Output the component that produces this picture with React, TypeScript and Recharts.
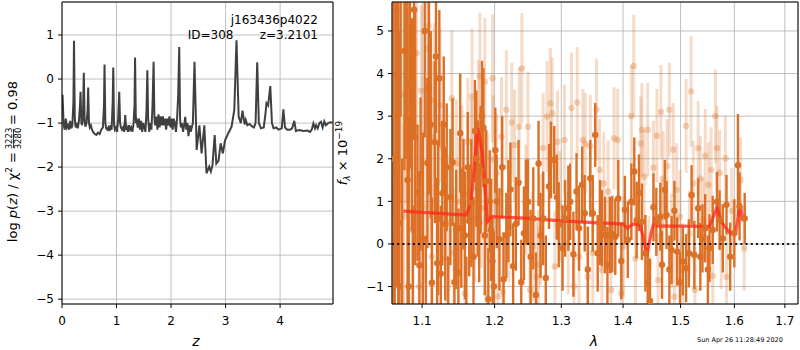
import React from "react";
import {
  ComposedChart,
  Line,
  Scatter,
  ErrorBar,
  XAxis,
  YAxis,
  CartesianGrid,
  ReferenceLine,
} from "recharts";

// p(z) curve, left panel
const zGrid = [
  0.0, 0.01, 0.03, 0.05, 0.07, 0.09, 0.11, 0.13, 0.15, 0.17, 0.19, 0.21, 0.22, 0.235, 0.25, 0.27, 0.29, 0.31, 0.33,
  0.34, 0.355, 0.37, 0.385, 0.4, 0.415, 0.43, 0.45, 0.47, 0.48, 0.495, 0.51, 0.53, 0.55, 0.57, 0.6, 0.63, 0.66, 0.69,
  0.72, 0.75, 0.77, 0.78, 0.795, 0.81, 0.83, 0.85, 0.87, 0.89, 0.91, 0.93, 0.94, 0.955, 0.97, 0.99, 1.01, 1.03, 1.05,
  1.065, 1.08, 1.1, 1.12, 1.14, 1.16, 1.175, 1.19, 1.21, 1.23, 1.25, 1.27, 1.29, 1.31, 1.33, 1.34, 1.355, 1.37, 1.39,
  1.41, 1.43, 1.45, 1.47, 1.49, 1.51, 1.53, 1.55, 1.565, 1.58, 1.6, 1.62, 1.64, 1.66, 1.68, 1.695, 1.71, 1.73, 1.75,
  1.77, 1.79, 1.81, 1.83, 1.85, 1.87, 1.89, 1.91, 1.93, 1.95, 1.97, 1.99, 2.01, 2.03, 2.05, 2.07, 2.09, 2.11, 2.13,
  2.15, 2.165, 2.18, 2.2, 2.22, 2.24, 2.26, 2.28, 2.3, 2.32, 2.34, 2.36, 2.38, 2.4, 2.43, 2.47, 2.52, 2.56, 2.61,
  2.65, 2.7, 2.73, 2.76, 2.8, 2.83, 2.87, 2.91, 2.95, 2.99, 3.05, 3.11, 3.16, 3.2, 3.24, 3.28, 3.31, 3.35, 3.37, 3.4,
  3.44, 3.48, 3.52, 3.55, 3.58, 3.61, 3.65, 3.7, 3.73, 3.75, 3.78, 3.82, 3.85, 3.88, 3.93, 3.97, 4.03, 4.06, 4.09,
  4.13, 4.18, 4.22, 4.26, 4.29, 4.35, 4.43, 4.5, 4.55, 4.58, 4.61, 4.64, 4.66, 4.69, 4.72, 4.75, 4.78, 4.81, 4.84,
  4.88, 4.92, 4.96,
];
const logPz = [
  -0.4, -0.36, -1.05, -1.15, -0.9, -1.1, -1.05, -1.15, -0.95, -1.12, -1.05, -0.5, 0.87, -0.9, -1.1, -1.0, -1.12, -0.95,
  -0.6, -0.29, -1.0, -1.05, -0.8, 0.14, -0.95, -1.08, -1.0, -0.7, -0.19, -1.0, -1.1, -1.05, -1.15, -1.2, -1.25, -1.27,
  -1.22, -1.25, -1.15, -1.1, -0.6, 0.33, -1.0, -1.12, -1.15, -1.1, -1.18, -1.05, -1.15, -0.5, 0.26, -1.05, -1.15, -1.1,
  -1.2, -0.9, -0.29, -1.0, -1.1, -1.15, -1.1, -1.2, -0.82, -1.15, -1.1, -1.2, -1.05, -1.15, -1.1, -1.2, -1.05, -0.6,
  0.49, -1.0, -0.95, -1.1, -0.9, -1.15, -0.95, -1.2, -1.0, -1.1, -1.2, -0.7, 0.2, -0.9, -1.2, -1.0, -1.15, -0.6, 0.39,
  -0.9, -1.05, -0.85, -1.15, -0.8, -1.1, -0.85, -1.05, -0.85, -1.05, -0.9, -1.15, -0.9, -1.05, -0.85, -1.1, -0.9,
  -1.15, -0.9, -1.0, -1.2, -0.9, -0.4, 0.73, -0.9, -1.1, -1.0, -1.2, -1.05, -0.86, -1.15, -1.0, -1.3, -1.05, -1.2,
  -1.1, -1.0, 0.39, -1.61, -1.05, -1.69, -1.05, -2.14, -1.99, -2.1, -1.95, -1.27, -1.92, -1.86, -1.46, -1.69, -1.39,
  -1.23, -1.08, -0.7, 0.88, -0.86, -1.0, -0.72, -1.03, -0.93, -1.05, -1.02, -1.07, -1.1, -1.0, 0.38, -1.0, -1.12,
  -1.1, -0.8, -0.55, -0.6, -0.16, -1.0, -1.12, -1.1, -1.15, -1.12, -0.69, -1.1, -1.15, -1.15, -1.12, -0.95, -1.18,
  -1.16, -1.18, -1.17, -1.2, -1.15, -1.01, -1.12, -1.05, -1.12, -1.0, -0.97, -1.1, -0.96, -1.05, -1.0, -0.98, -0.99,
];

// spectrum, right panel: dark (primary) points
const darkLam = [
  1.063, 1.0645, 1.066, 1.0675, 1.069, 1.0705, 1.072, 1.074, 1.077, 1.0785, 1.081, 1.0825, 1.084, 1.0865, 1.088,
  1.0895, 1.091, 1.094, 1.0965, 1.098, 1.101, 1.1035, 1.105, 1.107, 1.109, 1.1115, 1.113, 1.117, 1.1185, 1.12, 1.1215,
  1.123, 1.125, 1.127, 1.129, 1.131, 1.133, 1.135, 1.138, 1.141, 1.1435, 1.146, 1.149, 1.1515, 1.153, 1.156, 1.158,
  1.16, 1.162, 1.164, 1.167, 1.17, 1.172, 1.174, 1.176, 1.178, 1.18, 1.182, 1.184, 1.186, 1.188, 1.191, 1.193, 1.195,
  1.197, 1.199, 1.201, 1.203, 1.207, 1.211, 1.213, 1.217, 1.22, 1.223, 1.227, 1.231, 1.235, 1.239, 1.243, 1.246,
  1.249, 1.253, 1.257, 1.261, 1.265, 1.268, 1.272, 1.276, 1.281, 1.284, 1.289, 1.293, 1.296, 1.302, 1.306, 1.311,
  1.314, 1.319, 1.324, 1.328, 1.333, 1.337, 1.342, 1.346, 1.35, 1.354, 1.358, 1.362, 1.365, 1.37, 1.374, 1.378,
  1.382, 1.387, 1.392, 1.397, 1.403, 1.408, 1.414, 1.419, 1.423, 1.427, 1.432, 1.438, 1.442, 1.446, 1.452, 1.457,
  1.464, 1.467, 1.472, 1.475, 1.48, 1.484, 1.489, 1.494, 1.499, 1.504, 1.51, 1.515, 1.52, 1.525, 1.532, 1.536, 1.54,
  1.545, 1.55, 1.553, 1.559, 1.567, 1.572, 1.578, 1.585, 1.592, 1.6, 1.607, 1.61, 1.62,
];
const darkFlux = [
  2.0, -3, 6.5, 4, 0.5, -1, 7.0, -2.0, 4.53, 6, 1.5, -1, 3.77, 2.8, -1.6, 5.5, 2.5, 1.2, -0.5, 1.64, 0.11, 5.0, -2.0,
  1.9, 3.66, 2.8, -0.91, 2.39, 4.4, -0.45, 0.6, 3.89, -0.7, 1.19, 2.8, 0.47, 1.8, -1.8, 1.1, 1.92, -0.9, 0.34, -0.67,
  2.6, 0.37, 1.17, 0.2, -1.5, 1.8, 0.54, 0.96, -0.3, 2.65, 2.0, 1.3, 0.5, 1.74, 3.0, 2.73, 0.2, 1.48, -1.3, 1.0, 0.33,
  -0.4, -1.0, 2.2, 1.0, 0.11, 1.8, -0.83, 0.2, 0.77, 1.28, -0.52, 0.47, 1.44, -0.9, 0.25, 0.98, 0.99, -0.3, 0.6,
  -1.2, 1.89, 0.2, 0.6, -0.8, 1.35, 1.97, 1.97, 1.1, 0.45, -0.1, 0.6, 0.84, 0.99, -0.24, 1.23, 0.37, 1.39, 0.72, -0.6,
  1.54, 0.72, 2.56, -0.22, 0.5, 0.37, 0.21, -0.5, 0.21, 0.23, 0.17, 1.07, -0.4, 0.8, 0.1, 0.99, 1.7, 0.56, 1.2, 0.52,
  -0.22, -0.9, -1.34, 0.86, 0.52, 0.64, -0.49, 1.27, 0.68, -0.6, -0.14, 0.78, -0.18, -0.9, -0.41, -0.57, -0.22, 1.15,
  -0.26, 0.84, -0.3, 0.13, 0.37, -0.6, -0.1, 0.33, 0.99, 0.56, 0.13, 0.92, -0.3, 0.25, 1.85, 0.88, 0.6,
];
const darkErr = [
  6, 5, 5, 5, 6, 6, 4, 4, 2.8, 4, 5, 4, 2.0, 2.5, 2.5, 3, 3, 1.6, 2.2, 1.8, 2.5, 2.5, 2.2, 2.0, 2.5, 2.2, 2.0, 1.9,
  1.8, 2.0, 1.8, 1.6, 1.6, 1.7, 1.6, 1.8, 1.5, 1.5, 1.6, 1.5, 1.4, 1.4, 1.5, 1.4, 1.4, 1.3, 1.5, 1.2, 1.3, 1.3, 1.5,
  1.4, 1.2, 1.6, 1.6, 1.4, 1.5, 1.3, 1.4, 1.4, 1.2, 1.2, 1.2, 1.2, 1.0, 1.3, 1.0, 1.1, 1.2, 1.2, 1.1, 1.0, 1.2, 1.1,
  1.0, 1.1, 1.0, 1.0, 1.1, 1.0, 1.0, 1.1, 1.2, 1.0, 1.0, 1.0, 1.1, 1.0, 1.0, 0.9, 0.8, 1.0, 1.0, 1.0, 0.9, 1.0, 0.9,
  1.0, 0.9, 1.0, 0.9, 0.9, 1.0, 0.9, 0.9, 0.75, 0.9, 1.0, 0.9, 0.9, 0.9, 0.9, 0.9, 0.9, 0.9, 0.9, 0.8, 0.9, 0.9, 0.8,
  0.9, 0.9, 0.9, 0.9, 0.8, 1.0, 0.8, 0.8, 0.8, 0.8, 0.7, 0.8, 0.8, 0.8, 0.7, 0.8, 0.7, 0.8, 0.8, 0.8, 0.7, 0.8, 0.7,
  0.8, 0.8, 0.8, 0.8, 0.8, 0.8, 0.7, 0.7, 0.8, 0.7, 0.8, 0.8, 1.2, 0.8, 0.6,
];

// faint (contaminated / second-order) points
const lightLam = [
  1.064, 1.067, 1.07, 1.073, 1.076, 1.079, 1.082, 1.084, 1.087, 1.09, 1.093, 1.096, 1.099, 1.103, 1.107, 1.109, 1.11,
  1.113, 1.115, 1.116, 1.12, 1.124, 1.128, 1.132, 1.136, 1.14, 1.143, 1.146, 1.15, 1.154, 1.158, 1.162, 1.167, 1.168,
  1.172, 1.177, 1.179, 1.181, 1.186, 1.188, 1.19, 1.197, 1.198, 1.203, 1.205, 1.21, 1.212, 1.217, 1.221, 1.225, 1.229,
  1.236, 1.24, 1.246, 1.249, 1.252, 1.256, 1.262, 1.265, 1.268, 1.272, 1.278, 1.283, 1.286, 1.29, 1.294, 1.298, 1.305,
  1.311, 1.316, 1.32, 1.325, 1.328, 1.334, 1.338, 1.342, 1.346, 1.35, 1.356, 1.361, 1.365, 1.368, 1.375, 1.38, 1.385,
  1.391, 1.397, 1.401, 1.414, 1.418, 1.421, 1.43, 1.432, 1.436, 1.442, 1.444, 1.452, 1.458, 1.46, 1.465, 1.467, 1.469,
  1.476, 1.48, 1.484, 1.487, 1.489, 1.493, 1.499, 1.504, 1.51, 1.516, 1.519, 1.523, 1.526, 1.532, 1.536, 1.541, 1.545,
  1.551, 1.556, 1.559, 1.564, 1.567, 1.572, 1.575, 1.583, 1.585, 1.595, 1.612, 1.619,
];
const lightFlux = [
  3.0, 5.5, 1.0, 3.51, 0.64, 2.93, 3.19, 4.57, 0.33, 2.75, 4.48, -1.0, 3.6, 0.88, 4.59, 5.12, 1.52, -0.3, 2.5, 3.38,
  1.44, 3.26, 2.25, -0.34, 0.5, 3.42, -0.2, 1.89, 1.0, 1.74, -1.16, 2.4, 1.81, 3.46, 0.6, 2.82, 3.93, 0.84, 3.81,
  -1.16, 1.11, 3.89, 1.99, 1.66, -1.23, 2.52, -1.12, 3.15, 0.4, 2.85, 2.32, 2.75, 4.12, 1.03, 2.75, -1.08, -0.06,
  -0.77, -0.49, 0.33, 2.25, 2.99, 3.3, 3.07, -0.53, 2.4, 0.88, 2.44, 0.02, 3.19, -1.0, 3.32, -0.3, 2.44, 2.35, -0.77,
  2.3, -0.21, 3.15, 1.74, -0.61, 1.42, 1.23, -1.08, 2.48, 2.44, -1.16, -0.06, 3.0, 4.18, -0.34, 2.36, 2.68, 1.58, 2.68,
  -0.45, 1.79, 2.54, -0.85, 3.1, 0.41, 1.54, 1.83, 3.15, 0.07, 2.21, -1.24, 1.27, 0.64, -0.61, 2.77, 0.25, 3.58, 1.42,
  -1.08, 2.25, 1.54, 0.56, 2.07, 1.39, 1.74, -0.75, 3.0, 2.25, 1.67, -0.06, 2.01, -0.77, 0.78, 1.5, -0.1,
];
const lightErr = [
  3, 3, 3, 2.5, 2.2, 2.0, 2.0, 2.0, 2, 2.0, 1.8, 1.8, 2.0, 1.8, 1.8, 1.5, 1.6, 1.7, 1.8, 1.8, 1.6, 1.8, 1.7, 1.6, 1.6,
  1.6, 1.5, 1.5, 1.5, 1.5, 1.5, 1.5, 1.6, 1.6, 1.5, 1.5, 1.5, 1.4, 1.5, 1.5, 1.5, 1.5, 1.5, 1.4, 1.4, 1.4, 1.4, 1.4,
  1.3, 1.4, 1.3, 1.4, 1.3, 1.3, 1.3, 1.3, 1.3, 1.3, 1.3, 1.3, 1.3, 1.3, 1.3, 1.3, 1.3, 1.2, 1.3, 1.3, 1.2, 1.3, 1.2,
  1.3, 1.2, 1.2, 1.2, 1.2, 1.2, 1.2, 1.2, 1.2, 1.2, 1.2, 1.2, 1.2, 1.2, 1.2, 1.2, 1.2, 1.2, 1.2, 1.2, 1.1, 1.1, 1.1,
  1.1, 1.1, 1.1, 1.1, 1.1, 1.1, 1.1, 1.1, 1.1, 1.1, 1.1, 1.1, 1.1, 1.1, 1.1, 1.1, 1.1, 1.0, 1.3, 1.0, 1.0, 1.1, 1.0,
  1.0, 1.1, 1.0, 1.0, 1.0, 1.1, 1.0, 1.0, 1.0, 1.0, 1.0, 1.0, 1.0, 1.0,
];

// best-fit template
const modelLam = [
  1.0755, 1.16, 1.1667, 1.176, 1.1825, 1.1897, 1.196, 1.25, 1.3, 1.35, 1.4, 1.407, 1.418, 1.429, 1.434, 1.4405,
  1.448, 1.454, 1.459, 1.5, 1.553, 1.567, 1.575, 1.592, 1.603, 1.611, 1.616,
];
const modelFlux = [
  0.77, 0.68, 0.99, 2.72, 2.13, 0.52, 0.64, 0.6, 0.54, 0.5, 0.47, 0.37, 0.47, 0.44, 0.17, -0.26, 0.25, 0.56, 0.42,
  0.42, 0.41, 0.86, 0.52, 0.25, 0.3, 0.95, 0.55,
];

const zTicks = [0, 1, 2, 3, 4];
const pTicks = [-5, -4, -3, -2, -1, 0, 1];
const lamTicks = [1.1, 1.2, 1.3, 1.4, 1.5, 1.6, 1.7];
const fTicks = [-1, 0, 1, 2, 3, 4, 5];
const zDomain = [0, 4.97];
const pDomain = [-5.11, 1.75];
const lamDomain = [1.061, 1.727];
const fDomain = [-1.41, 5.68];

const pzData = zGrid.map((z, i) => ({ z, p: logPz[i] }));
const darkData = darkLam.map((lam, i) => ({ lam, f: darkFlux[i], e: darkErr[i] }));
const lightData = lightLam.map((lam, i) => ({ lam, f: lightFlux[i], e: lightErr[i] }));
const modelData = modelLam.map((lam, i) => ({ lam, f: modelFlux[i] }));

const FONT = "DejaVu Sans";
const ORANGE = "#dc7026";
const minus = (v: number) => (v < 0 ? "\u2212" + String(-v) : String(v));
const tickStyle = { fontSize: 12, fill: "#000", fontFamily: FONT };

const dot = (r: number, fill: string, op: number) => (props: any) =>
  <circle cx={props.cx} cy={props.cy} r={r} fill={fill} fillOpacity={op} />;

// spines on top and right, like matplotlib's box
function BoxAxes({ xd, yd }: { xd: number[]; yd: number[] }) {
  return [
    <XAxis
      key="top"
      xAxisId="top"
      orientation="top"
      type="number"
      domain={xd}
      allowDataOverflow
      height={1}
      tick={false}
      tickLine={false}
      stroke="#000"
    />,
    <YAxis
      key="right"
      yAxisId="right"
      orientation="right"
      type="number"
      domain={yd}
      allowDataOverflow
      width={1}
      tick={false}
      tickLine={false}
      stroke="#000"
    />,
  ];
}

function PzPanel() {
  return (
    <ComposedChart width={340} height={350} margin={{ top: 1, right: 6, bottom: 0, left: 0 }} data={pzData}>
      <CartesianGrid stroke="#b0b0b0" strokeWidth={0.8} />
      <XAxis
        dataKey="z"
        type="number"
        domain={zDomain}
        ticks={zTicks}
        allowDataOverflow
        height={46}
        tickSize={4}
        tickMargin={8}
        stroke="#000"
        tick={tickStyle}
      />
      <YAxis
        type="number"
        domain={pDomain}
        ticks={pTicks}
        allowDataOverflow
        width={62}
        tickSize={4}
        tickMargin={4}
        stroke="#000"
        tick={tickStyle}
        tickFormatter={minus}
      />
      {BoxAxes({ xd: zDomain, yd: pDomain })}
      <Line dataKey="p" type="linear" stroke="#404040" strokeWidth={2} dot={false} isAnimationActive={false} />
    </ComposedChart>
  );
}

function SpecPanel() {
  return (
    <ComposedChart width={460} height={350} margin={{ top: 1, right: 1, bottom: 0, left: 0 }}>
      <CartesianGrid stroke="#b0b0b0" strokeWidth={0.8} />
      <XAxis
        dataKey="lam"
        type="number"
        scale="log"
        domain={lamDomain}
        ticks={lamTicks}
        allowDataOverflow
        height={46}
        tickSize={4}
        tickMargin={8}
        stroke="#000"
        tick={tickStyle}
        tickFormatter={(v: number) => v.toFixed(1)}
      />
      <YAxis
        dataKey="f"
        type="number"
        domain={fDomain}
        ticks={fTicks}
        allowDataOverflow
        width={52}
        tickSize={4}
        tickMargin={4}
        stroke="#000"
        tick={tickStyle}
        tickFormatter={minus}
      />
      {BoxAxes({ xd: lamDomain, yd: fDomain })}
      <Scatter data={lightData} dataKey="f" shape={dot(3.2, ORANGE, 0.3)} isAnimationActive={false}>
        <ErrorBar dataKey="e" direction="y" width={0} stroke="rgba(220,112,38,0.25)" strokeWidth={3} />
      </Scatter>
      <Scatter data={darkData} dataKey="f" shape={dot(3.2, ORANGE, 1)} isAnimationActive={false}>
        <ErrorBar dataKey="e" direction="y" width={0} stroke={ORANGE} strokeWidth={2.4} />
      </Scatter>
      <Line
        data={modelData}
        dataKey="f"
        type="linear"
        stroke="#ff2a1a"
        strokeOpacity={0.78}
        strokeWidth={3.2}
        dot={false}
        isAnimationActive={false}
      />
      <ReferenceLine y={0} stroke="#111" strokeWidth={2} strokeDasharray="2 3.2" />
    </ComposedChart>
  );
}

export default function App() {
  return (
    <div style={{ position: "absolute", left: 0, top: 0, width: 800, height: 350, background: "#fff", fontFamily: FONT }}>
      <style>{`.spec .recharts-scatter, .spec .recharts-errorBars, .spec .recharts-errorBar { clip-path: url(#specClip); }`}</style>
      <svg width={0} height={0} style={{ position: "absolute" }}>
        <defs>
          <clipPath id="specClip" clipPathUnits="userSpaceOnUse">
            <rect x={52} y={2} width={406} height={302} />
          </clipPath>
        </defs>
      </svg>
      <div style={{ position: "absolute", left: 0, top: 0 }}>
        <PzPanel />
      </div>
      <div className="spec" style={{ position: "absolute", left: 340, top: 0 }}>
        <SpecPanel />
      </div>
      <svg width={800} height={350} style={{ position: "absolute", left: 0, top: 0, pointerEvents: "none" }} fontFamily={FONT}>
        <text x={318} y={24} textAnchor="end" fontSize={12}>j163436p4022</text>
        <text x={233.5} y={39} textAnchor="end" fontSize={12}>ID=308</text>
        <text x={318} y={39} textAnchor="end" fontSize={12}>z=3.2101</text>
        <text x={196} y={346} textAnchor="middle" fontSize={14} fontStyle="italic">z</text>
        <text x={594} y={346} textAnchor="middle" fontSize={14} fontStyle="italic">λ</text>
        <text x={697} y={342} fontSize={6.5}>Sun Apr 26 11:28:49 2020</text>
        <g transform="translate(13,154) rotate(-90)" fontSize={13}>
          <text x={2} y={4} textAnchor="end">
            log <tspan fontStyle="italic">p</tspan>(<tspan fontStyle="italic">z</tspan>) / χ
            <tspan dy={-5} fontSize={9}>2</tspan>
            <tspan dy={5}> =</tspan>
          </text>
          <text x={15.5} y={-1.5} textAnchor="middle" fontSize={8.5}>3223</text>
          <line x1={6} x2={25} y1={0.5} y2={0.5} stroke="#000" strokeWidth={0.8} />
          <text x={15.5} y={7.5} textAnchor="middle" fontSize={8.5}>3280</text>
          <text x={29} y={4} textAnchor="start">= 0.98</text>
        </g>
        <g transform="translate(347,153) rotate(-90)" fontSize={13}>
          <text x={0} y={0} textAnchor="middle">
            <tspan fontStyle="italic">f</tspan>
            <tspan dy={3} fontSize={9} fontStyle="italic">λ</tspan>
            <tspan dy={-3}> × 10</tspan>
            <tspan dy={-5} fontSize={9}>−19</tspan>
          </text>
        </g>
      </svg>
    </div>
  );
}
